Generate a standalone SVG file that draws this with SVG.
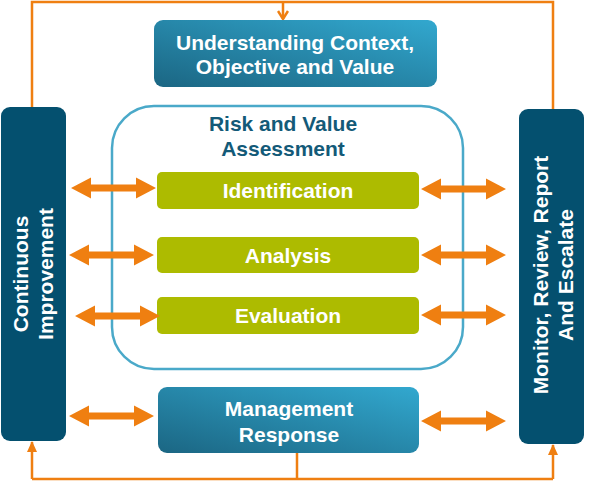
<svg xmlns="http://www.w3.org/2000/svg" width="591" height="485" viewBox="0 0 591 485">
<defs>
<linearGradient id="blueGrad" x1="0" y1="1" x2="1" y2="0">
<stop offset="0" stop-color="#1b6683"/>
<stop offset="1" stop-color="#32a8cf"/>
</linearGradient>
<path id="dbl" d="M0,0 L20,-10.5 L20,-3.5 L65,-3.5 L65,-10.5 L85,0 L65,10.5 L65,3.5 L20,3.5 L20,10.5 Z" fill="#ef7f11"/>
<marker id="chev" markerWidth="12" markerHeight="12" refX="10" refY="6" orient="auto" markerUnits="userSpaceOnUse">
<path d="M2,1 L10,6 L2,11" fill="none" stroke="#ef7f11" stroke-width="2.5"/>
</marker>
<marker id="tri" markerWidth="12" markerHeight="12" refX="10" refY="6" orient="auto" markerUnits="userSpaceOnUse">
<path d="M0,1 L11,6 L0,11 Z" fill="#ef7f11"/>
</marker>
</defs>
<style>
.t{font-family:"Liberation Sans",Arial,sans-serif;font-weight:bold;font-size:21px;text-anchor:middle;fill:#ffffff}
.title{fill:#135a78}
.thin{fill:none;stroke:#ef7f11;stroke-width:2.5}
.bar{fill:#04506f}
.green{fill:#adbb00}
.blue{fill:url(#blueGrad)}
</style>
<rect width="591" height="485" fill="#ffffff"/>
<g id="connectors">
<polyline class="thin" points="32,107 32,2 553,2 553,109"/>
<line class="thin" x1="283" y1="2" x2="283" y2="19" marker-end="url(#chev)"/>
<polyline class="thin" points="297,453 297,479"/>
<polyline class="thin" points="32,479 553,479"/>
<line class="thin" x1="32" y1="479" x2="32" y2="442" marker-end="url(#tri)"/>
<line class="thin" x1="553" y1="479" x2="553" y2="445" marker-end="url(#tri)"/>
</g>
<g id="assessment">
<rect x="112" y="106" width="351" height="263" rx="42" fill="none" stroke="#4aa9c9" stroke-width="2.5"/>
<text class="t title" x="283" y="131">Risk and Value</text>
<text class="t title" x="283" y="156">Assessment</text>
</g>
<g id="context">
<rect class="blue" x="154" y="20" width="283" height="67" rx="9"/>
<text class="t" x="295" y="50">Understanding Context,</text>
<text class="t" x="295" y="74">Objective and Value</text>
</g>
<g id="continuous">
<rect class="bar" x="1" y="107" width="65" height="334" rx="9"/>
<text class="t" transform="translate(28,274) rotate(-90)">Continuous</text>
<text class="t" transform="translate(53,274) rotate(-90)">Improvement</text>
</g>
<g id="monitor">
<rect class="bar" x="519" y="109" width="65" height="335" rx="9"/>
<text class="t" transform="translate(548,275) rotate(-90)">Monitor, Review, Report</text>
<text class="t" transform="translate(573,275) rotate(-90)">And Escalate</text>
</g>
<g id="identification">
<rect class="green" x="157" y="172" width="262" height="37" rx="5"/>
<text class="t" x="288" y="198">Identification</text>
</g>
<g id="analysis">
<rect class="green" x="157" y="237" width="262" height="36" rx="5"/>
<text class="t" x="288" y="263">Analysis</text>
</g>
<g id="evaluation">
<rect class="green" x="157" y="297" width="262" height="37" rx="5"/>
<text class="t" x="288" y="323">Evaluation</text>
</g>
<g id="management">
<rect class="blue" x="158" y="387" width="261" height="66" rx="9"/>
<text class="t" x="289" y="416">Management</text>
<text class="t" x="289" y="442">Response</text>
</g>
<g id="arrows">
<use href="#dbl" transform="translate(71,188)"/>
<use href="#dbl" transform="translate(69,255)"/>
<use href="#dbl" transform="translate(75,316)"/>
<use href="#dbl" transform="translate(69,416)"/>
<use href="#dbl" transform="translate(421,189)"/>
<use href="#dbl" transform="translate(421,255)"/>
<use href="#dbl" transform="translate(421,315)"/>
<use href="#dbl" transform="translate(421,421)"/>
</g>
</svg>
